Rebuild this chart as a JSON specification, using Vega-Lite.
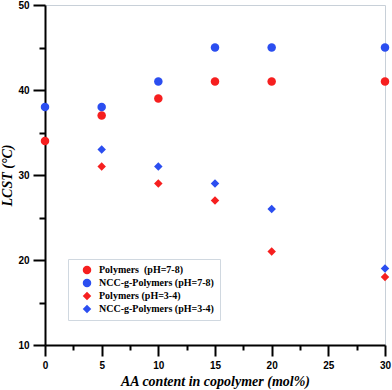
{
  "$schema": "https://vega.github.io/schema/vega-lite/v6.json",
  "width": 340,
  "height": 340,
  "autosize": {"type": "none"},
  "padding": {"left": 45, "top": 5, "right": 7, "bottom": 45},
  "background": "white",
  "config": {"view": {"stroke": "#c8d0d8", "strokeWidth": 1}, "axis": {"grid": false}},
  "data": {"values": [
    {"aa": 0, "lcst": 34, "series": "Polymers\u00a0 (pH=7-8)"},
    {"aa": 5, "lcst": 37, "series": "Polymers\u00a0 (pH=7-8)"},
    {"aa": 10, "lcst": 39, "series": "Polymers\u00a0 (pH=7-8)"},
    {"aa": 15, "lcst": 41, "series": "Polymers\u00a0 (pH=7-8)"},
    {"aa": 20, "lcst": 41, "series": "Polymers\u00a0 (pH=7-8)"},
    {"aa": 30, "lcst": 41, "series": "Polymers\u00a0 (pH=7-8)"},
    {"aa": 0, "lcst": 38, "series": "NCC-g-Polymers (pH=7-8)"},
    {"aa": 5, "lcst": 38, "series": "NCC-g-Polymers (pH=7-8)"},
    {"aa": 10, "lcst": 41, "series": "NCC-g-Polymers (pH=7-8)"},
    {"aa": 15, "lcst": 45, "series": "NCC-g-Polymers (pH=7-8)"},
    {"aa": 20, "lcst": 45, "series": "NCC-g-Polymers (pH=7-8)"},
    {"aa": 30, "lcst": 45, "series": "NCC-g-Polymers (pH=7-8)"},
    {"aa": 5, "lcst": 31, "series": "Polymers (pH=3-4)"},
    {"aa": 10, "lcst": 29, "series": "Polymers (pH=3-4)"},
    {"aa": 15, "lcst": 27, "series": "Polymers (pH=3-4)"},
    {"aa": 20, "lcst": 21, "series": "Polymers (pH=3-4)"},
    {"aa": 30, "lcst": 18, "series": "Polymers (pH=3-4)"},
    {"aa": 5, "lcst": 33, "series": "NCC-g-Polymers (pH=3-4)"},
    {"aa": 10, "lcst": 31, "series": "NCC-g-Polymers (pH=3-4)"},
    {"aa": 15, "lcst": 29, "series": "NCC-g-Polymers (pH=3-4)"},
    {"aa": 20, "lcst": 26, "series": "NCC-g-Polymers (pH=3-4)"},
    {"aa": 30, "lcst": 19, "series": "NCC-g-Polymers (pH=3-4)"}
  ]},
  "mark": {"type": "point", "filled": true, "opacity": 1, "clip": false},
  "encoding": {
    "x": {"field": "aa", "type": "quantitative",
      "scale": {"domain": [0, 30], "nice": false, "zero": false},
      "axis": {"values": [0, 2.5, 5, 7.5, 10, 12.5, 15, 17.5, 20, 22.5, 25, 27.5, 30],
        "domainColor": "black", "domainWidth": 2,
        "tickColor": "black", "tickWidth": 2,
        "tickSize": {"condition": {"test": "datum.value % 5 === 0", "value": 11}, "value": 5},
        "labelExpr": "datum.value % 5 === 0 ? datum.label : ''",
        "labelFont": "Liberation Sans", "labelFontWeight": "bold", "labelFontSize": 10, "labelColor": "black",
        "labelPadding": 4, "labelFlush": false, "labelOverlap": false,
        "title": "AA content in copolymer (mol%)", "titleFont": "Liberation Serif", "titleFontStyle": "italic",
        "titleFontWeight": "bold", "titleFontSize": 14, "titleColor": "black", "titlePadding": 4}},
    "y": {"field": "lcst", "type": "quantitative",
      "scale": {"domain": [10, 50], "nice": false, "zero": false},
      "axis": {"values": [10, 15, 20, 25, 30, 35, 40, 45, 50],
        "domainColor": "black", "domainWidth": 2,
        "tickColor": "black", "tickWidth": 2,
        "tickSize": {"condition": {"test": "datum.value % 10 === 0", "value": 12}, "value": 6},
        "labelExpr": "datum.value % 10 === 0 ? datum.label : ''",
        "labelFont": "Liberation Sans", "labelFontWeight": "bold", "labelFontSize": 10, "labelColor": "black",
        "labelPadding": 4, "labelFlush": false, "labelOverlap": false,
        "title": "LCST (°C)", "titleFont": "Liberation Serif", "titleFontStyle": "italic",
        "titleFontWeight": "bold", "titleFontSize": 14, "titleColor": "black", "titlePadding": 3}},
    "color": {"field": "series", "type": "nominal",
      "scale": {"domain": ["Polymers\u00a0 (pH=7-8)", "NCC-g-Polymers (pH=7-8)", "Polymers (pH=3-4)", "NCC-g-Polymers (pH=3-4)"],
        "range": ["#f61f1f", "#2b4ef0", "#f61f1f", "#2b4ef0"]},
      "legend": {"title": null, "orient": "none", "legendX": 23, "legendY": 254,
        "strokeColor": "#d0d8e0", "fillColor": "white", "padding": 6, "symbolOffset": 8,
        "labelFont": "Liberation Serif", "labelFontWeight": "bold", "labelFontSize": 10, "labelColor": "black",
        "labelOffset": 7, "rowPadding": 3}},
    "shape": {"field": "series", "type": "nominal",
      "scale": {"domain": ["Polymers\u00a0 (pH=7-8)", "NCC-g-Polymers (pH=7-8)", "Polymers (pH=3-4)", "NCC-g-Polymers (pH=3-4)"],
        "range": ["circle", "circle", "diamond", "diamond"]}},
    "size": {"field": "series", "type": "nominal",
      "scale": {"domain": ["Polymers\u00a0 (pH=7-8)", "NCC-g-Polymers (pH=7-8)", "Polymers (pH=3-4)", "NCC-g-Polymers (pH=3-4)"],
        "range": [72, 72, 62, 62]}}
  }
}
